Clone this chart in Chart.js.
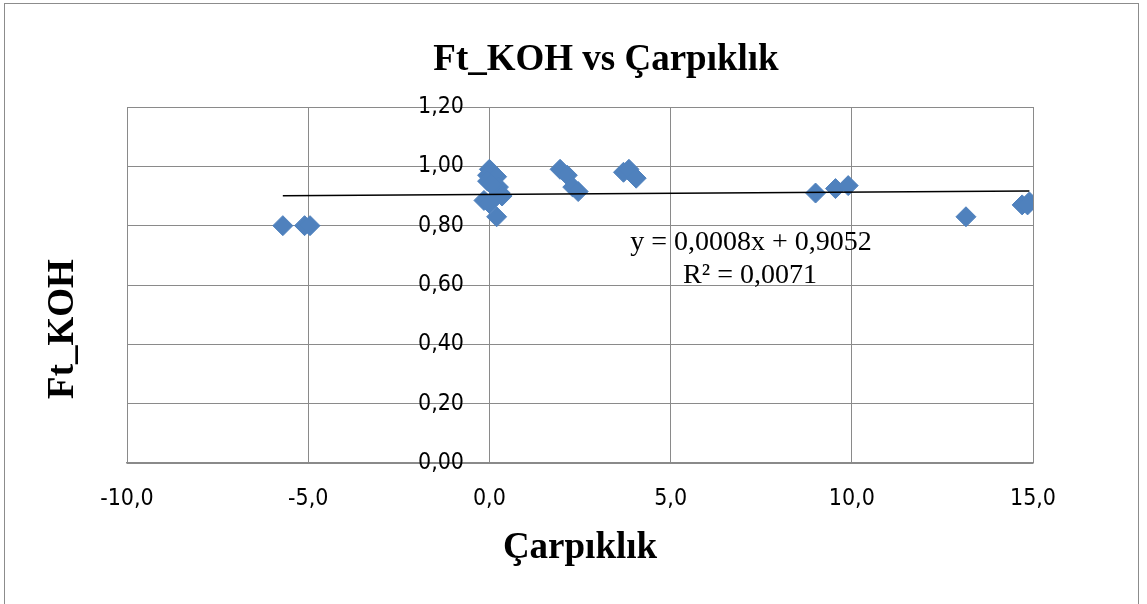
<!DOCTYPE html>
<html>
<head>
<meta charset="utf-8">
<script src="https://cdn.jsdelivr.net/npm/chart.js@4"></script>
<style>
  body { margin: 0; background: #fff; }
  canvas { display: block; }
</style>
</head>
<body>
<canvas id="skew_chart" width="1147" height="604"></canvas>
<script>
// skewness (Çarpıklık) vs Ft_KOH
const skewX = [-5.7, -5.1, -4.95,
  0.0, -0.05, 0.2, -0.05, 0.25, 0.3, 0.05, -0.15, 0.0, 0.2, 0.35,
  1.95, 2.15, 2.3, 2.45,
  3.7, 3.85, 4.05,
  9.0, 9.55, 9.9,
  13.15,
  14.7, 14.9, 14.85];
const ftKoh = [0.80, 0.80, 0.80,
  0.99, 0.97, 0.965, 0.95, 0.93, 0.91, 0.94, 0.885, 0.875, 0.83, 0.90,
  0.99, 0.97, 0.93, 0.915,
  0.98, 0.99, 0.96,
  0.91, 0.925, 0.935,
  0.83,
  0.87, 0.88, 0.87];

// trendline as printed on the chart
const slope = 0.0008;
const intercept = 0.9052;
const eqLabel = 'y = 0,0008x + 0,9052';
const r2Label = 'R² = 0,0071';

const xTicks = [-10, -5, 0, 5, 10, 15];
const yTicks = [0, 0.2, 0.4, 0.6, 0.8, 1.0, 1.2];

const points = skewX.map((x, i) => ({ x: x, y: ftKoh[i] }));
const xMin = Math.min(...skewX);
const xMax = Math.max(...skewX);
const trend = [
  { x: xMin, y: slope * xMin + intercept },
  { x: xMax, y: slope * xMax + intercept }
];

const gridGray = '#8a8a8a';
const serif = '"Liberation Serif", "Times New Roman", serif';
const tickFont = { family: '"DejaVu Sans Condensed", "Liberation Sans Narrow", "Liberation Sans", sans-serif', size: 23 };

const comma = (v, d) => v.toFixed(d).replace('.', ',');

// frame, titles and the equation text
const textPlugin = {
  id: 'textPlugin',
  beforeDraw(chart) {
    const ctx = chart.ctx;
    ctx.save();
    ctx.strokeStyle = '#8c8c8c';
    ctx.lineWidth = 1;
    ctx.strokeRect(4.5, 3.5, 1134, 700);
    ctx.restore();
  },
  afterDraw(chart) {
    const ctx = chart.ctx;
    const area = chart.chartArea;
    ctx.save();
    ctx.fillStyle = '#000';
    ctx.textAlign = 'center';
    ctx.textBaseline = 'alphabetic';

    ctx.font = 'bold 37px ' + serif;
    ctx.fillText('Ft_KOH vs Çarpıklık', 606, 70);
    ctx.fillText('Çarpıklık', (area.left + area.right) / 2, 558);

    ctx.save();
    ctx.translate(73, 329);
    ctx.rotate(-Math.PI / 2);
    ctx.fillText('Ft_KOH', 0, 0);
    ctx.restore();

    ctx.font = '28px ' + serif;
    ctx.fillText(eqLabel, 751, 250);
    ctx.fillText(r2Label, 750, 283);
    ctx.restore();
  }
};

const ctx = document.getElementById('skew_chart').getContext('2d');
const chart = new Chart(ctx, {
  type: 'scatter',
  data: {
    datasets: [{
      label: 'Trend',
      data: trend,
      showLine: true,
      borderColor: '#000',
      borderWidth: 1.5,
      pointRadius: 0,
      order: 0
    }, {
      label: 'Ft_KOH',
      data: points,
      pointStyle: 'rectRot',
      pointRadius: 10,
      backgroundColor: '#4F81BD',
      borderColor: '#4F81BD',
      borderWidth: 1,
      order: 1
    }]
  },
  options: {
    responsive: false,
    animation: false,
    layout: { padding: { left: 127, right: 114, top: 107, bottom: 0 } },
    plugins: {
      legend: { display: false },
      title: { display: false },
      tooltip: { enabled: false }
    },
    scales: {
      x: {
        type: 'linear',
        min: -10,
        max: 15,
        afterBuildTicks: s => { s.ticks = xTicks.map(v => ({ value: v })); },
        afterFit: s => { s.height = 141; },
        grid: { color: gridGray, drawTicks: false },
        border: { color: gridGray, width: 1.5 },
        ticks: {
          padding: 22,
          color: '#000',
          font: tickFont,
          callback: v => comma(v, 1)
        }
      },
      y: {
        type: 'linear',
        // labels sit a little left of the x = 0 gridline, which draws the axis line
        position: { x: -0.7 },
        min: 0,
        max: 1.2,
        afterBuildTicks: s => { s.ticks = yTicks.map(v => ({ value: v })); },
        grid: { color: gridGray, drawTicks: false },
        border: { display: false },
        ticks: {
          color: '#000',
          font: tickFont,
          callback: v => comma(v, 2)
        }
      }
    }
  },
  plugins: [textPlugin]
});
</script>
</body>
</html>
